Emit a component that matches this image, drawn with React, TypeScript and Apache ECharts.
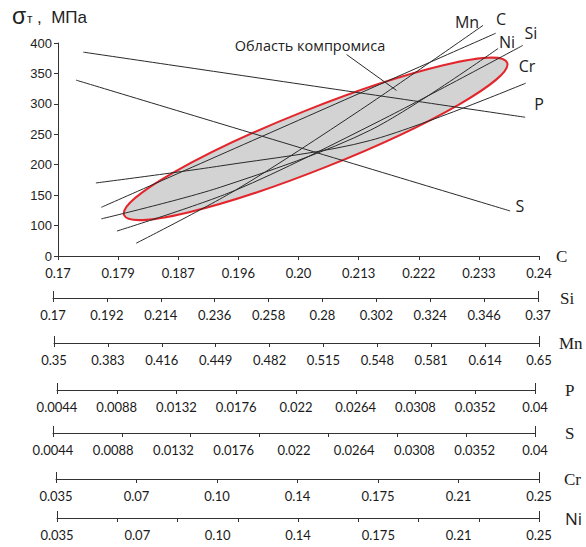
import React, { useEffect, useRef } from "react";
import * as echarts from "echarts";

// ---- tick labels of the stacked composition axes ----
const cLabels = ["0.17", "0.179", "0.187", "0.196", "0.20", "0.213", "0.222", "0.233", "0.24"];
const siLabels = ["0.17", "0.192", "0.214", "0.236", "0.258", "0.28", "0.302", "0.324", "0.346", "0.37"];
const mnLabels = ["0.35", "0.383", "0.416", "0.449", "0.482", "0.515", "0.548", "0.581", "0.614", "0.65"];
const pLabels = ["0.0044", "0.0088", "0.0132", "0.0176", "0.022", "0.0264", "0.0308", "0.0352", "0.04"];
const sLabels = ["0.0044", "0.0088", "0.0132", "0.0176", "0.022", "0.0264", "0.0308", "0.0352", "0.04"];
const crLabels = ["0.035", "0.07", "0.10", "0.14", "0.175", "0.21", "0.25"];
const niLabels = ["0.035", "0.07", "0.10", "0.14", "0.175", "0.21", "0.25"];
// number of tick intervals drawn on each axis line
const siTicks = 9;
const mnTicks = 9;
const pTicks = 8;
const sTicks = 7;
const crTicks = 6;
const niTicks = 8;

// ---- yield strength lines: [position on C scale (0..8), σт MPa] ----
const mnLine = [[1.3, 71], [2.95, 158], [5.03, 290], [7.07, 429]];
const siLine = [[0.98, 91], [2.95, 158], [5.37, 273], [7.73, 396]];
const cLine = [[0.72, 130], [7.28, 416]];
const niLine = [[0.72, 111], [2.7, 163], [5.2, 257], [7.32, 391]];
const crLine = [[0.63, 170], [2.7, 198], [5.2, 240], [7.78, 334]];
const pLine = [[0.42, 385], [7.77, 278]];
const sLine = [[0.3, 339], [7.52, 124]];

// compromise region: two tips of the ellipse and minor/major ratio
const compromise = [[1.1, 117, 7.47, 368, 0.145]];
const leader = [[4.8, 381], [5.63, 322]];

const yMin = 50;
const yMax = 400;
const yStep = 50;

export default function App() {
  const ref = useRef<HTMLDivElement>(null);
  useEffect(() => {
    document.body.style.margin = "0";
    const chart = echarts.init(ref.current!, null, { renderer: "svg" });

    const labelFont = { fontFamily: "Lato", fontSize: 13, color: "#1a1a1a" };
    const axisColor = "#333";

    const bottom = [
      { labels: siLabels, ticks: siTicks, left: 53, right: 538, y: 298, name: "Si", gap: 22, pad: 18, serif: true },
      { labels: mnLabels, ticks: mnTicks, left: 54, right: 539, y: 343, name: "Mn", gap: 20, pad: 8, serif: true },
      { labels: pLabels, ticks: pTicks, left: 57, right: 535, y: 390, name: "P", gap: 30, pad: 10, serif: true },
      { labels: sLabels, ticks: sTicks, left: 53, right: 535, y: 433, name: "S", gap: 30, pad: 12, serif: true },
      { labels: crLabels, ticks: crTicks, left: 56, right: 539, y: 479, name: "Cr", gap: 25, pad: 10, serif: true },
      { labels: niLabels, ticks: niTicks, left: 57, right: 539, y: 518, name: "Ni", gap: 26, pad: 0, serif: false },
    ];

    const grids: any[] = [{ left: 58, top: 43, width: 481, height: 213 }];
    const xAxes: any[] = [
      {
        gridIndex: 0,
        type: "value",
        min: 0,
        max: cLabels.length - 1,
        interval: 1,
        axisLine: { show: true, onZero: false, lineStyle: { color: axisColor, width: 1 } },
        axisTick: { show: true, length: 4, lineStyle: { color: axisColor } },
        axisLabel: {
          ...labelFont,
          margin: 10,
          showMinLabel: true,
          showMaxLabel: true,
          formatter: (v: number) => cLabels[Math.round(v)] ?? "",
        },
        splitLine: { show: false },
        name: "C",
        nameLocation: "end",
        nameGap: 17,
        nameTextStyle: { fontFamily: "Liberation Serif", fontSize: 17, color: "#222", padding: [6, 0, 0, 0] },
      },
    ];
    const yAxes: any[] = [
      {
        gridIndex: 0,
        type: "value",
        min: yMin,
        max: yMax,
        interval: yStep,
        axisLine: { show: true, lineStyle: { color: axisColor, width: 1 } },
        axisTick: { show: true, length: 4, lineStyle: { color: axisColor } },
        axisLabel: {
          fontFamily: "Liberation Sans",
          fontSize: 13,
          color: "#222",
          margin: 6,
          formatter: (v: number) => (v === yMin ? "0" : String(v)),
        },
        splitLine: { show: false },
      },
    ];

    bottom.forEach((b, i) => {
      const gi = i + 1;
      const n = b.labels.length - 1;
      grids.push({ left: b.left, width: b.right - b.left, top: b.y - 10, height: 10 });
      yAxes.push({ gridIndex: gi, type: "value", show: false, min: 0, max: 1 });
      const tickVals: number[] = [];
      for (let k = 0; k <= b.ticks; k++) tickVals.push((k * n) / b.ticks);
      const labelVals: number[] = [];
      for (let k = 0; k <= n; k++) labelVals.push(k);
      xAxes.push({
        gridIndex: gi,
        type: "value",
        position: "bottom",
        min: 0,
        max: n,
        axisLine: { show: true, onZero: false, lineStyle: { color: axisColor, width: 1 } },
        axisTick: { show: true, length: 4, customValues: tickVals, lineStyle: { color: axisColor } },
        axisLabel: {
          ...labelFont,
          margin: 10,
          customValues: labelVals,
          formatter: (v: number) => b.labels[Math.round(v)] ?? "",
        },
        splitLine: { show: false },
        name: b.name,
        nameLocation: "end",
        nameGap: b.gap,
        nameTextStyle: {
          fontFamily: b.serif ? "Liberation Serif" : "Open Sans",
          fontSize: 17,
          color: "#222",
          padding: [b.pad, 0, 0, 0],
        },
      });
      // end marks pointing upward
      xAxes.push({
        gridIndex: gi,
        type: "value",
        position: "bottom",
        min: 0,
        max: n,
        axisLine: { show: false, onZero: false },
        axisTick: { show: true, inside: true, length: 7, customValues: [0, n], lineStyle: { color: axisColor } },
        axisLabel: { show: false },
        splitLine: { show: false },
      });
    });

    const lineSeries = (name: string, data: number[][]) => ({
      name,
      type: "line",
      xAxisIndex: 0,
      yAxisIndex: 0,
      data,
      smooth: 0.3,
      symbol: "none",
      clip: false,
      z: 3,
      lineStyle: { color: "#2a2a2a", width: 1 },
    });

    const lineLabels = [
      { t: "Mn", x: 467, y: 22 },
      { t: "C", x: 501, y: 19 },
      { t: "Ni", x: 507, y: 42 },
      { t: "Si", x: 531, y: 33 },
      { t: "Cr", x: 527, y: 66 },
      { t: "P", x: 539, y: 104 },
      { t: "S", x: 520, y: 206 },
    ];

    chart.setOption({
      animation: false,
      grid: grids,
      xAxis: xAxes,
      yAxis: yAxes,
      series: [
        {
          type: "custom",
          name: "Область компромиса",
          coordinateSystem: "cartesian2d",
          xAxisIndex: 0,
          yAxisIndex: 0,
          z: 1,
          data: compromise,
          renderItem: (_params: any, api: any) => {
            const p1 = api.coord([api.value(0), api.value(1)]);
            const p2 = api.coord([api.value(2), api.value(3)]);
            const dx = p2[0] - p1[0];
            const dy = p2[1] - p1[1];
            const a = Math.sqrt(dx * dx + dy * dy) / 2;
            return {
              type: "ellipse",
              x: (p1[0] + p2[0]) / 2,
              y: (p1[1] + p2[1]) / 2,
              rotation: Math.atan2(-dy, dx),
              shape: { cx: 0, cy: 0, rx: a, ry: a * api.value(4) },
              style: { fill: "#d3d3d3", stroke: "#e3262c", lineWidth: 2 },
            };
          },
        },
        lineSeries("Mn", mnLine),
        lineSeries("Si", siLine),
        lineSeries("C", cLine),
        lineSeries("Ni", niLine),
        lineSeries("Cr", crLine),
        lineSeries("P", pLine),
        lineSeries("S", sLine),
        {
          type: "line",
          name: "leader",
          data: leader,
          symbol: "none",
          clip: false,
          z: 3,
          lineStyle: { color: "#2a2a2a", width: 1 },
        },
      ],
      graphic: [
        { type: "text", left: 12, top: 4, style: { text: "σ", font: "23px 'Liberation Sans'", fill: "#222" } },
        { type: "text", left: 27, top: 13, style: { text: "т", font: "12px 'Liberation Sans'", fill: "#222" } },
        { type: "text", left: 37, top: 9, style: { text: ",  МПа", font: "17px 'Liberation Sans'", fill: "#222" } },
        {
          type: "text",
          x: 310,
          y: 45,
          style: {
            text: "Область компромиса",
            font: "14.5px 'Open Sans'",
            fill: "#222",
            align: "center",
            verticalAlign: "middle",
          },
        },
        ...lineLabels.map((l) => ({
          type: "text",
          x: l.x,
          y: l.y,
          style: { text: l.t, font: "16px 'Open Sans'", fill: "#222", align: "center", verticalAlign: "middle" },
        })),
      ],
    });
    return () => chart.dispose();
  }, []);
  return <div ref={ref} style={{ width: 586, height: 547 }} />;
}
